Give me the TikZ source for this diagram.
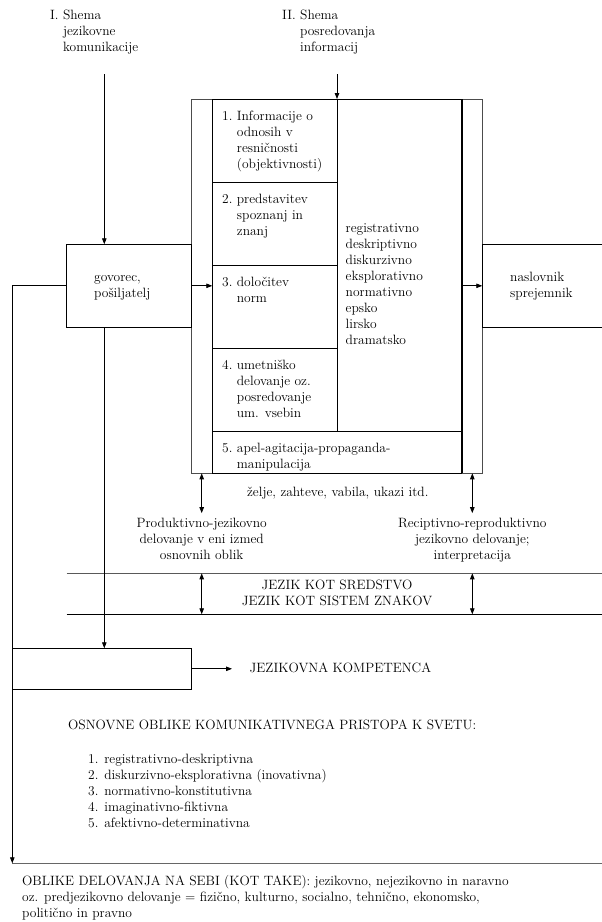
\documentclass[tikz,border=0pt]{standalone}
\usepackage{fontspec}
\usepackage{tikz}
\usetikzlibrary{arrows.meta}

\newcommand{\vrstice}[1]{\begin{tabular}[t]{@{}l@{}}#1\end{tabular}}
\newcommand{\sredina}[1]{\begin{tabular}[t]{@{}c@{}}#1\end{tabular}}
\newcommand{\stevilka}[2]{#1~\vrstice{#2}}

\begin{document}
\begin{tikzpicture}[x=1pt,y=-1pt,
    every node/.style={font=\fontsize{13.5}{16}\selectfont},
    celica/.style 2 args={draw, line width=0.8pt, anchor=north west, inner sep=0pt, outer sep=0pt, minimum width=#1, minimum height=#2},
    tekst/.style={anchor=base west, inner sep=0pt},
    sredi/.style={anchor=base, inner sep=0pt},
    puscica/.style={-{Triangle[length=6pt,width=4.5pt]}, line width=0.8pt},
    dvojna/.style={{Triangle[length=6pt,width=4.5pt]}-{Triangle[length=6pt,width=4.5pt]}, line width=0.8pt}]
  \useasboundingbox (0,0) rectangle (602,922);

  \node[tekst] (tshemaI) at (50,19.5) {\stevilka{I.}{Shema\\jezikovne\\komunikacije}};
  \node[tekst] (tshemaII) at (282,19.5) {\stevilka{II.}{Shema\\posredovanja\\informacij}};
  \coordinate (zacI) at (104.3,74);
  \coordinate (zacII) at (337,74);

  \node[celica={291.5pt}{374.3pt}, draw=black!70] (medij) at (191,99) {};
  \node[celica={124.7pt}{83.2pt}] (inf) at (212.3,99) {};
  \node[celica={124.7pt}{83.2pt}] (spo) at (inf.south west) {};
  \node[celica={124.7pt}{83.2pt}] (nor) at (spo.south west) {};
  \node[celica={124.7pt}{83.2pt}] (ume) at (nor.south west) {};
  \node[celica={249.4pt}{41.5pt}] (apel) at (ume.south west) {};
  \node[celica={124.7pt}{332.8pt}] (zvrsti) at (inf.north east) {};
  \draw[line width=2.2pt] (zvrsti.north east) -- (medij.south -| zvrsti.east);

  \node[tekst] (tinf) at (222,120.2) {\stevilka{1.}{Informacije o\\odnosih v\\resničnosti\\(objektivnosti)}};
  \node[tekst] (tspo) at (222,203.2) {\stevilka{2.}{predstavitev\\spoznanj in\\znanj}};
  \node[tekst] (tnor) at (222,286.2) {\stevilka{3.}{določitev\\norm}};
  \node[tekst] (tume) at (222,369.4) {\stevilka{4.}{umetniško\\delovanje oz.\\posredovanje\\um. vsebin}};
  \node[tekst] (tapel) at (222,452.6) {\stevilka{5.}{apel-agitacija-propaganda-\\manipulacija}};
  \node[tekst] (tzvrsti) at (345.5,232.2) {\vrstice{registrativno\\deskriptivno\\diskurzivno\\eksplorativno\\normativno\\epsko\\lirsko\\dramatsko}};

  \node[celica={124.2pt}{83pt}] (govorec) at (66.8,244.3) {};
  \node[celica={119.7pt}{83pt}, draw=none] (naslovnik) at (482.3,244.3) {};
  \draw[line width=0.8pt] (naslovnik.north east) -- (naslovnik.north west) -- (naslovnik.south west) -- (naslovnik.south east);
  \node[tekst] (tgovorec) at (94,281) {\vrstice{govorec,\\pošiljatelj}};
  \node[tekst] (tnaslovnik) at (510,281) {\vrstice{naslovnik\\sprejemnik}};

  \draw[puscica] (zacI) -- (zacI |- govorec.north);
  \draw[puscica] (zacII) -- (zacII |- medij.north);
  \draw[puscica] (govorec.east) -- (govorec.east -| inf.west);
  \draw[puscica] (govorec.east -| zvrsti.east) -- (naslovnik.west);

  \node[sredi] (tzelje) at (337.8,496.2) {želje, zahteve, vabila, ukazi itd.};
  \node[sredi] (tprod) at (201.7,527.8) {\sredina{Produktivno-jezikovno\\delovanje v eni izmed\\osnovnih oblik}};
  \node[sredi] (trec) at (472.3,527.8) {\sredina{Reciptivno-reproduktivno\\jezikovno delovanje;\\interpretacija}};
  \draw[dvojna, shorten >=3.3pt] (medij.south -| tprod) -- (tprod.north);
  \draw[dvojna, shorten >=3.3pt] (medij.south -| trec) -- (trec.north);

  \coordinate (zgornja) at (66.7,573.3);
  \coordinate (zgornjadesno) at (602,573.3);
  \coordinate (spodnja) at (66.7,614.3);
  \coordinate (spodnjadesno) at (602,614.3);
  \draw[line width=0.8pt, black!65] (zgornja) -- (zgornjadesno);
  \draw[line width=0.8pt] (spodnja) -- (spodnjadesno);
  \node[sredi] (tjezik) at (337,589) {\sredina{JEZIK KOT SREDSTVO\\JEZIK KOT SISTEM ZNAKOV}};
  \draw[dvojna] (zgornja -| tprod) -- (spodnja -| tprod);
  \draw[dvojna] (zgornja -| trec) -- (spodnja -| trec);

  \node[celica={179.4pt}{41pt}] (kompbox) at (12.3,648.3) {};
  \draw[puscica] (govorec.south -| zacI) -- (zacI |- kompbox.north);
  \node[tekst] (tkomp) at (249.5,672.3) {JEZIKOVNA KOMPETENCA};
  \draw[puscica, shorten >=17.5pt] (kompbox.east) -- (kompbox.east -| tkomp.west);

  \node[tekst] (tosnovne) at (68,729) {OSNOVNE OBLIKE KOMUNIKATIVNEGA PRISTOPA K SVETU:};
  \node[tekst] (tseznam) at (88,763.5) {\vrstice{1. registrativno-deskriptivna\\2. diskurzivno-eksplorativna (inovativna)\\3. normativno-konstitutivna\\4. imaginativno-fiktivna\\5. afektivno-determinativna}};

  \coordinate (dno) at (12.3,863.3);
  \coordinate (dnodesno) at (602,863.3);
  \draw[line width=1.2pt, black!60] (dno) -- (dnodesno);
  \draw[puscica] (govorec.west) -| (dno);
  \node[tekst] (tdelovanje) at (22,885.5) {\vrstice{OBLIKE DELOVANJA NA SEBI (KOT TAKE): jezikovno, nejezikovno in naravno\\oz. predjezikovno delovanje = fizično, kulturno, socialno, tehnično, ekonomsko,\\politično in pravno}};
\end{tikzpicture}
\end{document}
